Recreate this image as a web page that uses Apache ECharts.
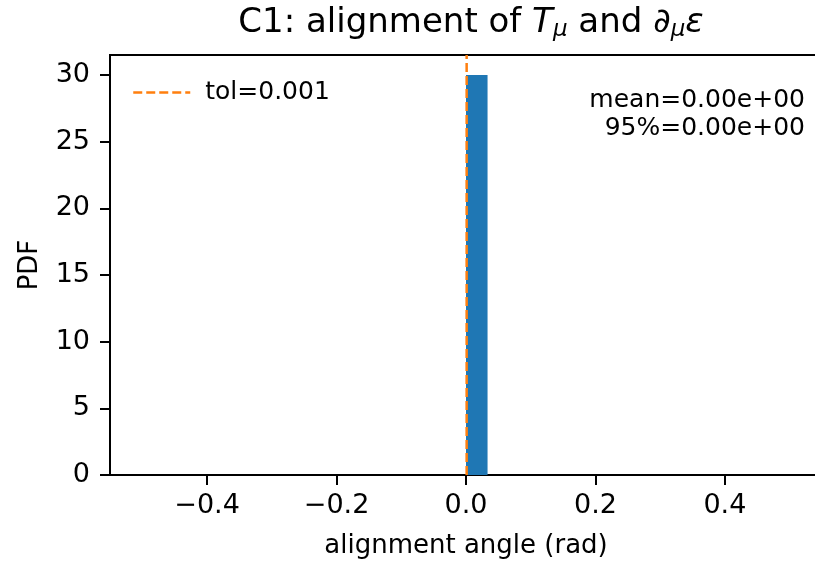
<!DOCTYPE html>
<html>
<head>
<meta charset="utf-8">
<script src="https://cdn.jsdelivr.net/npm/echarts@6/dist/echarts.min.js"></script>
<style>
  html, body { margin: 0; padding: 0; background: #fff; }
  #main { width: 815px; height: 563px; }
</style>
</head>
<body>
<div id="main"></div>
<script>
// histogram bins (30 bins over [-0.5, 0.5], only one is non-empty)
var binStart = [0.0];
var binEnd = [0.0333];
var pdfValues = [30];

var tolValue = 0.001;
var xTicks = [-0.4, -0.2, 0.0, 0.2, 0.4];
var yTicks = [0, 5, 10, 15, 20, 25, 30];
var statLines = ['mean=0.00e+00', '95%=0.00e+00'];

var FONT = 'DejaVu Sans';

var histData = [];
for (var i = 0; i < binStart.length; i++) {
    histData.push([binStart[i], binEnd[i], pdfValues[i]]);
}

// stats box, right aligned in the top right corner of the axes
var statGraphics = [];
for (var k = 0; k < statLines.length; k++) {
    statGraphics.push({
        type: 'text', x: 805, y: 100 + k * 28,
        style: { text: statLines[k], fontFamily: FONT, fontSize: 25, fill: '#000', align: 'right', verticalAlign: 'middle' }
    });
}

var myChart = echarts.init(document.getElementById('main'));

var option = {
    animation: false,
    backgroundColor: '#ffffff',
    title: {
        text: 'C1: alignment of {i|T}{s|μ} and {i|∂}{s|μ}{i|ε}',
        left: 466,
        textAlign: 'center',
        top: -1,
        textStyle: {
            fontFamily: FONT,
            fontSize: 34,
            fontWeight: 'normal',
            color: '#000',
            rich: {
                i: { fontFamily: FONT, fontSize: 34, fontStyle: 'italic', color: '#000' },
                s: { fontFamily: FONT, fontSize: 23, fontStyle: 'italic', color: '#000', verticalAlign: 'bottom', padding: [15, 0, 0, 0] }
            }
        }
    },
    grid: {
        left: 110, top: 55, bottom: 88, width: 712,
        outerBoundsMode: 'none',
        show: true, borderColor: '#000', borderWidth: 2,
        containLabel: false
    },
    legend: {
        left: 127, top: 75,
        itemWidth: 57, itemHeight: 24, itemGap: 10,
        itemStyle: { opacity: 0 },
        lineStyle: { width: 2.5 },
        textStyle: { fontFamily: FONT, fontSize: 25, color: '#000', padding: [0, 0, 0, 10] },
        data: ['tol=0.001']
    },
    xAxis: {
        type: 'value',
        min: -0.55, max: 0.55,
        name: 'alignment angle (rad)',
        nameLocation: 'middle',
        nameGap: 58,
        nameTextStyle: { fontFamily: FONT, fontSize: 26, color: '#000' },
        axisLine: { show: true, onZero: false, lineStyle: { color: '#000', width: 2 } },
        axisTick: { show: true, length: 10, lineStyle: { color: '#000', width: 2 }, customValues: xTicks },
        axisLabel: {
            fontFamily: FONT, fontSize: 27, color: '#000', margin: 17,
            customValues: xTicks,
            formatter: function (v) { return (v < 0 ? '\u2212' : '') + Math.abs(v).toFixed(1); }
        },
        splitLine: { show: false }
    },
    yAxis: {
        type: 'value',
        min: 0, max: 31.5,
        name: 'PDF',
        nameLocation: 'middle',
        nameGap: 67,
        nameTextStyle: { fontFamily: FONT, fontSize: 26, color: '#000' },
        axisLine: { show: true, onZero: false, lineStyle: { color: '#000', width: 2 } },
        axisTick: { show: true, length: 10, lineStyle: { color: '#000', width: 2 }, customValues: yTicks },
        axisLabel: { fontFamily: FONT, fontSize: 27, color: '#000', margin: 20, customValues: yTicks },
        splitLine: { show: false }
    },
    series: [
        {
            name: 'hist',
            type: 'custom',
            renderItem: function (params, api) {
                var p0 = api.coord([api.value(0), 0]);
                var p1 = api.coord([api.value(1), api.value(2)]);
                return {
                    type: 'rect',
                    shape: { x: p0[0], y: p1[1], width: p1[0] - p0[0], height: p0[1] - p1[1] },
                    style: { fill: '#1f77b4' }
                };
            },
            encode: { x: [0, 1], y: 2 },
            data: histData,
            z: 2
        },
        {
            name: 'tol=0.001',
            type: 'line',
            symbol: 'none',
            color: '#ff7f0e',
            lineStyle: { color: '#ff7f0e', width: 2.5, type: [9, 4] },
            data: [[tolValue, 0], [tolValue, 31.5]],
            z: 3
        }
    ],
    graphic: statGraphics
};

myChart.setOption(option);
</script>
</body>
</html>
